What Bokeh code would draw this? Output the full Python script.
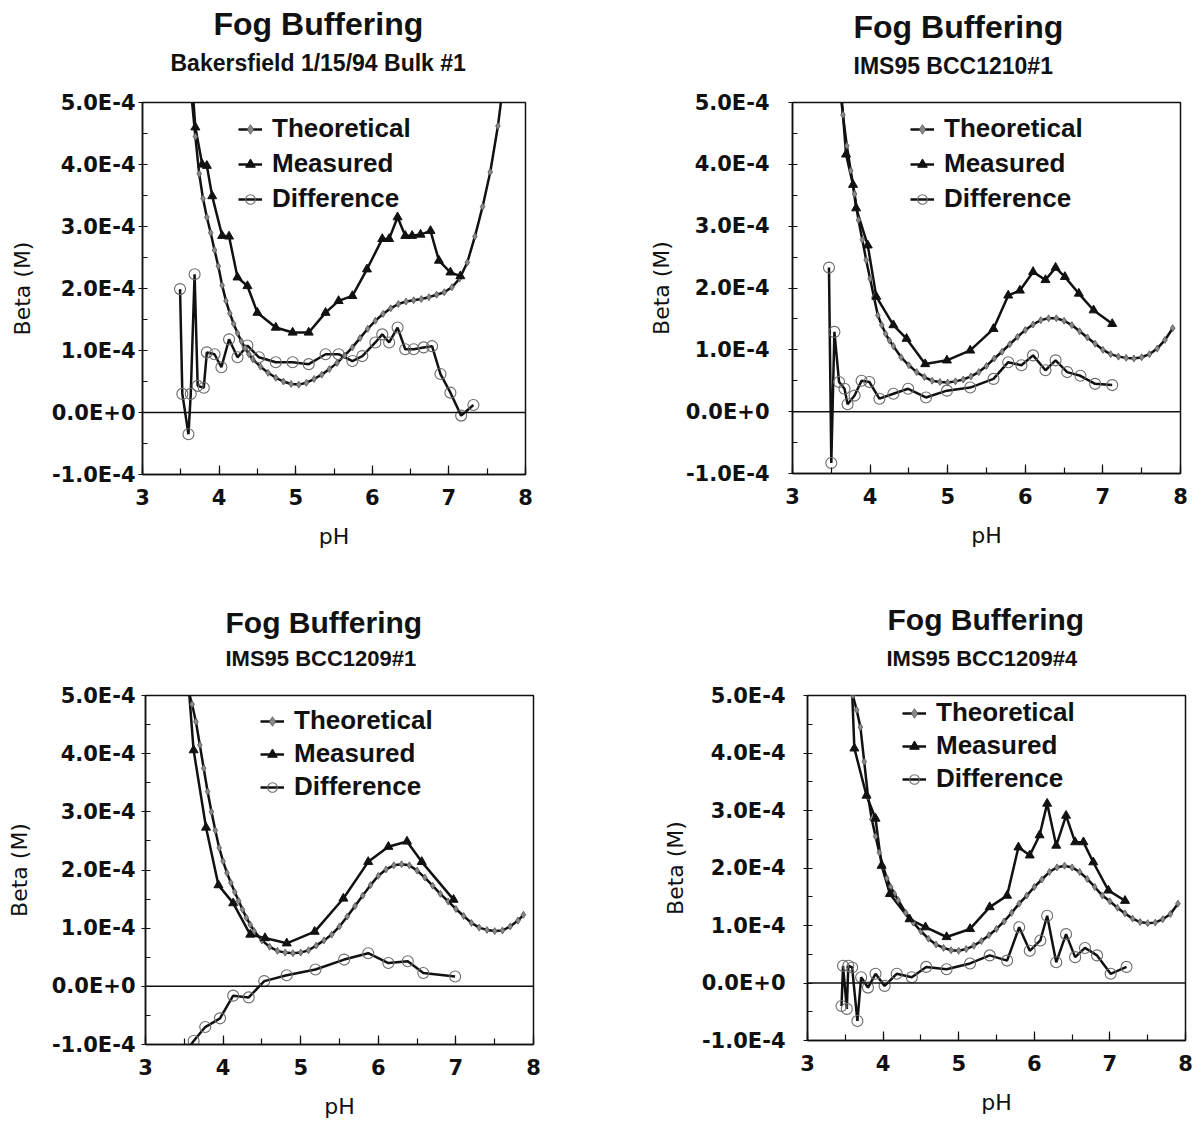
import numpy as np
from bokeh.plotting import figure
from bokeh.models import (Title, Legend, LegendItem, Span, SingleIntervalTicker,
                          CustomJSTickFormatter, Range1d, ColumnDataSource)
from bokeh.layouts import column, row
from bokeh.embed import file_html
from bokeh.resources import INLINE

# ---------------- data (Beta values in units of 1E-4 M) ----------------
main_title = "Fog Buffering"
subtitles = ["Bakersfield 1/15/94 Bulk #1", "IMS95 BCC1210#1",
             "IMS95 BCC1209#1", "IMS95 BCC1209#4"]
series_names = ["Theoretical", "Measured", "Difference"]
x_label = "pH"
y_label = "Beta (M)"

# Panel 1: Bakersfield 1/15/94 Bulk #1
p1_theo_ph = [3.54, 3.59, 3.64, 3.69, 3.74, 3.79, 3.84, 3.89, 3.94, 3.99, 4.04, 4.09, 4.14,
              4.19, 4.24, 4.29, 4.34, 4.39, 4.44, 4.54, 4.64, 4.74, 4.84, 4.94, 5.04, 5.14,
              5.24, 5.34, 5.44, 5.54, 5.64, 5.74, 5.84, 5.94, 6.04, 6.14, 6.24, 6.34, 6.44,
              6.54, 6.64, 6.74, 6.84, 6.94, 7.04, 7.14, 7.24, 7.34, 7.44, 7.54, 7.64, 7.74]
p1_theo = [6.6, 5.8, 5.1, 4.45, 3.85, 3.45, 3.15, 2.90, 2.62, 2.36, 2.05, 1.80, 1.60,
           1.43, 1.28, 1.15, 1.04, 0.94, 0.86, 0.74, 0.64, 0.56, 0.50, 0.46, 0.45, 0.48,
           0.54, 0.61, 0.70, 0.80, 0.92, 1.05, 1.20, 1.35, 1.48, 1.59, 1.68, 1.75, 1.79,
           1.81, 1.83, 1.86, 1.90, 1.94, 2.02, 2.16, 2.42, 2.84, 3.32, 3.88, 4.62, 5.6]
p1_meas_ph = [3.62, 3.69, 3.78, 3.84, 3.91, 4.04, 4.13, 4.24, 4.37, 4.50, 4.74, 4.96, 5.17,
              5.39, 5.56, 5.74, 5.93, 6.13, 6.22, 6.33, 6.43, 6.52, 6.63, 6.76, 6.87, 7.02, 7.15]
p1_meas = [5.8, 4.6, 4.0, 3.98, 3.49, 2.85, 2.84, 2.18, 2.04, 1.61, 1.37, 1.29, 1.29,
           1.61, 1.80, 1.88, 2.31, 2.80, 2.80, 3.15, 2.85, 2.85, 2.87, 2.93, 2.45, 2.26, 2.20]
p1_diff_ph = [3.49, 3.52, 3.60, 3.63, 3.68, 3.72, 3.80, 3.84, 3.94, 4.03, 4.13, 4.24, 4.37,
              4.52, 4.74, 4.96, 5.17, 5.39, 5.56, 5.74, 5.87, 6.04, 6.13, 6.22, 6.33, 6.43,
              6.54, 6.67, 6.78, 6.89, 7.02, 7.16, 7.32]
p1_diff = [1.99, 0.30, -0.35, 0.30, 2.23, 0.43, 0.40, 0.97, 0.94, 0.73, 1.18, 0.89, 1.08,
           0.89, 0.81, 0.81, 0.78, 0.94, 0.94, 0.83, 0.91, 1.13, 1.26, 1.13, 1.37, 1.02,
           1.02, 1.05, 1.07, 0.62, 0.32, -0.05, 0.12]

# Panel 2: IMS95 BCC1210#1
p2_theo_ph = [3.55, 3.60, 3.65, 3.70, 3.75, 3.80, 3.85, 3.90, 3.95, 4.00, 4.05, 4.10, 4.15,
              4.20, 4.25, 4.30, 4.40, 4.50, 4.60, 4.70, 4.80, 4.90, 5.00, 5.10, 5.20, 5.30,
              5.40, 5.50, 5.60, 5.70, 5.80, 5.90, 6.00, 6.10, 6.20, 6.30, 6.40, 6.50, 6.60,
              6.70, 6.80, 6.90, 7.00, 7.10, 7.20, 7.30, 7.40, 7.50, 7.60, 7.70, 7.80, 7.90]
p2_theo = [6.2, 5.35, 4.80, 4.30, 3.90, 3.52, 3.10, 2.78, 2.45, 2.15, 1.85, 1.56, 1.40,
           1.26, 1.15, 1.06, 0.88, 0.75, 0.64, 0.56, 0.50, 0.48, 0.47, 0.49, 0.52, 0.57,
           0.64, 0.74, 0.86, 0.97, 1.09, 1.21, 1.32, 1.41, 1.48, 1.51, 1.51, 1.47, 1.40,
           1.30, 1.20, 1.10, 1.00, 0.93, 0.89, 0.87, 0.86, 0.88, 0.93, 1.02, 1.16, 1.35]
p2_meas_ph = [3.62, 3.69, 3.78, 3.82, 3.97, 4.08, 4.30, 4.47, 4.71, 4.99, 5.29, 5.59, 5.78,
              5.93, 6.10, 6.26, 6.39, 6.51, 6.69, 6.88, 7.12]
p2_meas = [5.3, 4.16, 3.67, 3.29, 2.69, 1.86, 1.40, 1.18, 0.77, 0.83, 0.99, 1.34, 1.88,
           1.96, 2.26, 2.13, 2.33, 2.18, 1.91, 1.64, 1.42]
p2_diff_ph = [3.47, 3.50, 3.54, 3.60, 3.67, 3.71, 3.80, 3.89, 3.99, 4.12, 4.30, 4.49, 4.72,
              4.99, 5.29, 5.59, 5.78, 5.95, 6.10, 6.26, 6.39, 6.54, 6.71, 6.90, 7.12]
p2_diff = [2.33, -0.83, 1.29, 0.48, 0.37, 0.12, 0.26, 0.50, 0.48, 0.21, 0.29, 0.37, 0.23,
           0.34, 0.39, 0.53, 0.80, 0.75, 0.91, 0.67, 0.83, 0.64, 0.58, 0.45, 0.43]

# Panel 3: IMS95 BCC1209#1
p3_theo_ph = [3.50, 3.55, 3.60, 3.65, 3.70, 3.75, 3.80, 3.85, 3.90, 3.95, 4.00, 4.05, 4.10,
              4.15, 4.20, 4.25, 4.30, 4.35, 4.40, 4.50, 4.60, 4.70, 4.80, 4.90, 5.00, 5.10,
              5.20, 5.30, 5.40, 5.50, 5.60, 5.70, 5.80, 5.90, 6.00, 6.10, 6.20, 6.30, 6.40,
              6.50, 6.60, 6.70, 6.80, 6.90, 7.00, 7.10, 7.20, 7.30, 7.40, 7.50, 7.60, 7.70,
              7.80, 7.87]
p3_theo = [6.4, 5.1, 4.85, 4.55, 4.15, 3.75, 3.35, 3.00, 2.68, 2.38, 2.15, 1.95, 1.78,
           1.62, 1.47, 1.32, 1.18, 1.06, 0.95, 0.79, 0.68, 0.61, 0.58, 0.57, 0.58, 0.62,
           0.70, 0.79, 0.89, 1.03, 1.20, 1.38, 1.56, 1.74, 1.90, 2.01, 2.08, 2.10, 2.08,
           1.99, 1.87, 1.73, 1.59, 1.46, 1.33, 1.21, 1.09, 1.01, 0.97, 0.95, 0.96, 1.03,
           1.13, 1.23]
p3_meas_ph = [3.53, 3.62, 3.78, 3.94, 4.13, 4.35, 4.54, 4.82, 5.18, 5.55, 5.87, 6.13, 6.37,
              6.56, 6.97]
p3_meas = [5.6, 4.06, 2.73, 1.74, 1.43, 0.89, 0.83, 0.74, 0.94, 1.51, 2.14, 2.40, 2.49,
           2.14, 1.49]
p3_diff_ph = [3.40, 3.62, 3.77, 3.96, 4.13, 4.33, 4.53, 4.82, 5.19, 5.56, 5.87, 6.13, 6.38,
              6.58, 6.99]
p3_diff = [-1.35, -0.94, -0.70, -0.55, -0.16, -0.19, 0.09, 0.19, 0.29, 0.46, 0.57, 0.40,
           0.43, 0.23, 0.17]

# Panel 4: IMS95 BCC1209#4
p4_theo_ph = [3.55, 3.60, 3.65, 3.70, 3.75, 3.80, 3.85, 3.90, 3.95, 4.00, 4.05, 4.10, 4.15,
              4.20, 4.30, 4.40, 4.50, 4.60, 4.70, 4.80, 4.90, 5.00, 5.10, 5.20, 5.30, 5.40,
              5.50, 5.60, 5.70, 5.80, 5.90, 6.00, 6.10, 6.20, 6.30, 6.40, 6.50, 6.60, 6.70,
              6.80, 6.90, 7.00, 7.10, 7.20, 7.30, 7.40, 7.50, 7.60, 7.70, 7.80, 7.90]
p4_theo = [5.8, 5.0, 4.75, 4.45, 3.85, 3.25, 2.85, 2.55, 2.27, 2.03, 1.82, 1.67, 1.55,
           1.44, 1.22, 1.05, 0.90, 0.77, 0.67, 0.61, 0.57, 0.56, 0.59, 0.65, 0.73, 0.83,
           0.94, 1.07, 1.22, 1.38, 1.52, 1.67, 1.80, 1.93, 2.01, 2.04, 2.01, 1.93, 1.81,
           1.67, 1.52, 1.42, 1.31, 1.21, 1.12, 1.06, 1.04, 1.05, 1.11, 1.20, 1.38]
p4_meas_ph = [3.58, 3.62, 3.78, 3.90, 3.98, 4.09, 4.35, 4.56, 4.84, 5.15, 5.41, 5.64, 5.79,
              5.94, 6.07, 6.17, 6.29, 6.42, 6.54, 6.65, 6.78, 6.98, 7.20]
p4_meas = [5.4, 4.08, 3.26, 2.86, 2.04, 1.55, 1.11, 0.97, 0.80, 0.94, 1.32, 1.52, 2.36,
           2.22, 2.57, 3.12, 2.39, 2.91, 2.45, 2.45, 2.10, 1.61, 1.43]
p4_diff_ph = [3.45, 3.47, 3.52, 3.54, 3.59, 3.66, 3.71, 3.80, 3.90, 4.02, 4.18, 4.38, 4.57,
              4.84, 5.15, 5.41, 5.64, 5.80, 5.94, 6.08, 6.17, 6.29, 6.42, 6.54, 6.67, 6.83,
              7.01, 7.22]
p4_diff = [-0.40, 0.30, -0.45, 0.30, 0.27, -0.66, 0.10, -0.08, 0.16, -0.05, 0.16, 0.10, 0.28,
           0.24, 0.34, 0.48, 0.39, 0.97, 0.56, 0.74, 1.17, 0.36, 0.85, 0.45, 0.61, 0.48,
           0.16, 0.28]

UNIT = 1e-4

panels_data = [
    (p1_theo_ph, p1_theo, p1_meas_ph, p1_meas, p1_diff_ph, p1_diff),
    (p2_theo_ph, p2_theo, p2_meas_ph, p2_meas, p2_diff_ph, p2_diff),
    (p3_theo_ph, p3_theo, p3_meas_ph, p3_meas, p3_diff_ph, p3_diff),
    (p4_theo_ph, p4_theo, p4_meas_ph, p4_meas, p4_diff_ph, p4_diff),
]

# ---------------- layout / style settings ----------------
# (left border, frame width, right border, top border, frame height, bottom border)
geom = [
    (142, 383, 75, 100, 372, 88),
    (192, 388, 22, 97, 371, 92),
    (145, 388, 67, 133, 349, 82),
    (207, 378, 17, 132, 345, 87),
]
# (title size, title offset, sub size, sub offset, spacer standoff, sub standoff, title standoff)
title_style = [
    (32, 71, 23, 28, 22, 4, 7),
    (32, 61, 23, 61, 19, 4, 7),
    (30, 80, 22, 80, 20, 4, 5),
    (30, 80, 22, 79, 20, 4, 11),
]
# (x, y from frame bottom-left, spacing)
legend_style = [
    (96, 260, 4),
    (118, 259, 4),
    (115, 242, 2),
    (95, 246, 2),
]
# (y tick label standoff, y axis label standoff)
yaxis_style = [
    (3, 14),
    (19, 9),
    (6, 17),
    (18, 11),
]

INK = "#111111"
TICK_FONT = "DejaVu Sans"
TITLE_FONT = "Liberation Sans"


def make_panel(i):
    tph, tv, mph, mv, dph, dv = panels_data[i]
    lb, fw, rb, tb, fh, bb = geom[i]
    p = figure(frame_width=fw, frame_height=fh,
               min_border_left=lb, min_border_right=rb,
               min_border_top=tb, min_border_bottom=bb,
               x_range=Range1d(3, 8), y_range=Range1d(-1 * UNIT, 5 * UNIT),
               output_backend="svg", toolbar_location=None, title=None,
               background_fill_color="white", border_fill_color="white")
    p.xgrid.visible = False
    p.ygrid.visible = False
    p.outline_line_color = INK
    p.outline_line_width = 1.5

    xa = p.xaxis[0]
    ya = p.yaxis[0]
    xa.ticker = SingleIntervalTicker(interval=1, num_minor_ticks=2)
    ya.ticker = SingleIntervalTicker(interval=UNIT, num_minor_ticks=2)
    ya.formatter = CustomJSTickFormatter(code="return tick.toExponential(1).toUpperCase();")
    for ax in (xa, ya):
        ax.axis_line_color = INK
        ax.axis_line_width = 1.5
        ax.major_tick_line_color = INK
        ax.minor_tick_line_color = INK
        ax.major_tick_line_width = 1.2
        ax.minor_tick_line_width = 1.2
        ax.major_label_text_font = TICK_FONT
        ax.major_label_text_font_style = "bold"
        ax.major_label_text_font_size = "21px"
        ax.major_label_text_color = INK
        ax.axis_label_text_font = TICK_FONT
        ax.axis_label_text_font_style = "normal"
        ax.axis_label_text_font_size = "22px"
        ax.axis_label_text_color = INK
    xa.axis_label = x_label
    ya.axis_label = y_label
    xa.major_tick_in = 9
    xa.major_tick_out = 0
    xa.minor_tick_in = 6
    xa.minor_tick_out = 0
    xa.major_label_standoff = 14
    xa.axis_label_standoff = 16
    ya.major_tick_in = 0
    ya.major_tick_out = 4
    ya.minor_tick_in = 5
    ya.minor_tick_out = 0
    ya.major_label_standoff, ya.axis_label_standoff = yaxis_style[i]

    p.add_layout(Span(location=0, dimension="width", line_color=INK, line_width=1.5))

    src_t = ColumnDataSource(dict(x=tph, y=np.array(tv) * UNIT))
    src_m = ColumnDataSource(dict(x=mph, y=np.array(mv) * UNIT))
    src_d = ColumnDataSource(dict(x=dph, y=np.array(dv) * UNIT))

    lt = p.line("x", "y", source=src_t, line_color=INK, line_width=2.5)
    lm = p.line("x", "y", source=src_m, line_color=INK, line_width=2.5)
    ld = p.line("x", "y", source=src_d, line_color=INK, line_width=2.5)
    st = p.scatter("x", "y", source=src_t, marker="diamond", size=7,
                   fill_color="#8a8a8a", line_color="#555555", line_width=0.8)
    sm = p.scatter("x", "y", source=src_m, marker="triangle", size=9,
                   fill_color=INK, line_color=INK)
    sd = p.scatter("x", "y", source=src_d, marker="circle", size=11,
                   fill_alpha=0, line_color="#6a6a6a", line_width=1.1)

    lx, ly, lsp = legend_style[i]
    legend = Legend(items=[LegendItem(label=series_names[0], renderers=[lt, st]),
                           LegendItem(label=series_names[1], renderers=[lm, sm]),
                           LegendItem(label=series_names[2], renderers=[ld, sd])],
                    location=(lx, ly), orientation="vertical",
                    border_line_alpha=0, background_fill_alpha=0,
                    padding=0, margin=0, spacing=lsp,
                    glyph_width=24, glyph_height=24, label_height=24,
                    label_standoff=10,
                    label_text_font=TITLE_FONT, label_text_font_style="bold",
                    label_text_font_size="26px", label_text_color=INK)
    p.add_layout(legend)

    ts, toff, ss, soff, s0, s1, s2 = title_style[i]
    spacer = Title(text=" ", text_font_size="1px", standoff=s0)
    sub = Title(text=subtitles[i], align="left", offset=soff, standoff=s1,
                text_font=TITLE_FONT, text_font_style="bold",
                text_font_size=f"{ss}px", text_color=INK)
    ttl = Title(text=main_title, align="left", offset=toff, standoff=s2,
                text_font=TITLE_FONT, text_font_style="bold",
                text_font_size=f"{ts}px", text_color=INK)
    p.add_layout(spacer, "above")
    p.add_layout(sub, "above")
    p.add_layout(ttl, "above")
    return p


plots = [make_panel(i) for i in range(4)]
layout = column(row(plots[0], plots[1]), row(plots[2], plots[3]))

html = file_html(layout, INLINE, title="Fog Buffering")
open("out.html", "w").write(html)
